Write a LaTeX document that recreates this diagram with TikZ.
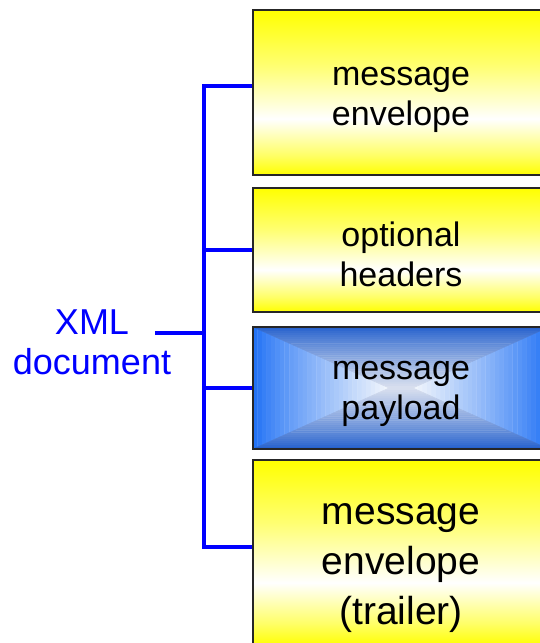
\documentclass[tikz,border=0pt]{standalone}
\usepackage{fontspec}
\setmainfont{Liberation Sans}
\definecolor{xblue}{RGB}{0,0,255}
\definecolor{topOuter}{RGB}{38,98,205}
\definecolor{topInner}{RGB}{215,222,238}
\definecolor{sideOuter}{RGB}{35,115,245}
\definecolor{sideInner}{RGB}{240,245,252}
\pgfdeclareverticalshading{yellowglow}{100bp}{color(0bp)=(yellow); color(25bp)=(yellow); color(31bp)=(yellow!60!white); color(42bp)=(white); color(58bp)=(yellow!55!white); color(75bp)=(yellow); color(100bp)=(yellow)}
\begin{document}
\begin{tikzpicture}[x=1pt,y=-1pt,
  ybox/.style={draw=black!85, line width=1.3pt, shading=yellowglow, minimum width=296pt, inner sep=0pt},
  pbox/.style={draw=black!85, line width=1.3pt, minimum width=296pt, inner sep=0pt},
  btext/.style={align=center, inner sep=0pt, text=black},
  bus/.style={draw=xblue, line width=3.2pt},
  t34/.style={font=\fontsize{34}{40}\selectfont},
  t39/.style={font=\fontsize{39}{50}\selectfont}]
\useasboundingbox (0,0) rectangle (540,643);
\clip (0,0) rectangle (540,643);
% payload shading
\foreach \k in {0,...,29}{
  \pgfmathsetmacro\s{1-\k/30}
  \pgfmathsetmacro\t{1-(\k+1)/30}
  \pgfmathtruncatemacro\pc{100*(\k/29)^0.85}
  \pgfmathsetmacro\xa{401-136*\s-12}\pgfmathsetmacro\xb{401+136*\s+12}
  \pgfmathsetmacro\ya{388-61*\s}\pgfmathsetmacro\yb{388+61*\s}
  \pgfmathsetmacro\xc{401-136*\t-12}\pgfmathsetmacro\xd{401+136*\t+12}
  \pgfmathsetmacro\yc{388-61*\t}\pgfmathsetmacro\yd{388+61*\t}
  \filldraw[line width=0.4pt, color=sideInner!\pc!sideOuter] (\xa,\ya) -- (\xc,\yc) -- (\xc,\yd) -- (\xa,\yb) -- cycle;
  \filldraw[line width=0.4pt, color=sideInner!\pc!sideOuter] (\xb,\ya) -- (\xd,\yc) -- (\xd,\yd) -- (\xb,\yb) -- cycle;
  \filldraw[line width=0.4pt, color=topInner!\pc!topOuter] (\xa,\ya) -- (\xb,\ya) -- (\xd,\yc) -- (\xc,\yc) -- cycle;
  \filldraw[line width=0.4pt, color=topInner!\pc!topOuter] (\xa,\yb) -- (\xb,\yb) -- (\xd,\yd) -- (\xc,\yd) -- cycle;
}
\node[ybox, minimum height=165pt] (env) at (401,92.5) {};
\node[ybox, minimum height=124pt] (hdr) at (401,250) {};
\node[pbox, minimum height=122pt] (pay) at (401,388) {};
\node[ybox, minimum height=186pt] (trl) at (401,553) {};
\node[btext, t34] (envt) at (401,100) {message\\envelope};
\node[btext, t34] (hdrt) at (401,254) {optional\\headers};
\node[btext, t34] (payt) at (401,394) {message\\payload};
\node[btext, t39] (trlt) at (401,568) {message\\envelope\\(trailer)};
\node[text=xblue, font=\fontsize{36}{40}\selectfont, align=center, inner sep=0pt] (xml) at (92,342) {XML\\document};
\coordinate (c1) at (204,86);
\coordinate (c2) at (204,250);
\coordinate (c3) at (204,388);
\coordinate (c4) at (204,547);
\coordinate (cx) at (204,333);
\coordinate (xs) at (155,333);
\draw[bus] (env.west |- c1) -- (c1) -- (c4) -- (trl.west |- c4);
\draw[bus] (c2) -- (hdr.west |- c2);
\draw[bus] (c3) -- (pay.west |- c3);
\draw[bus] (xs) -- (cx);
\end{tikzpicture}
\end{document}
